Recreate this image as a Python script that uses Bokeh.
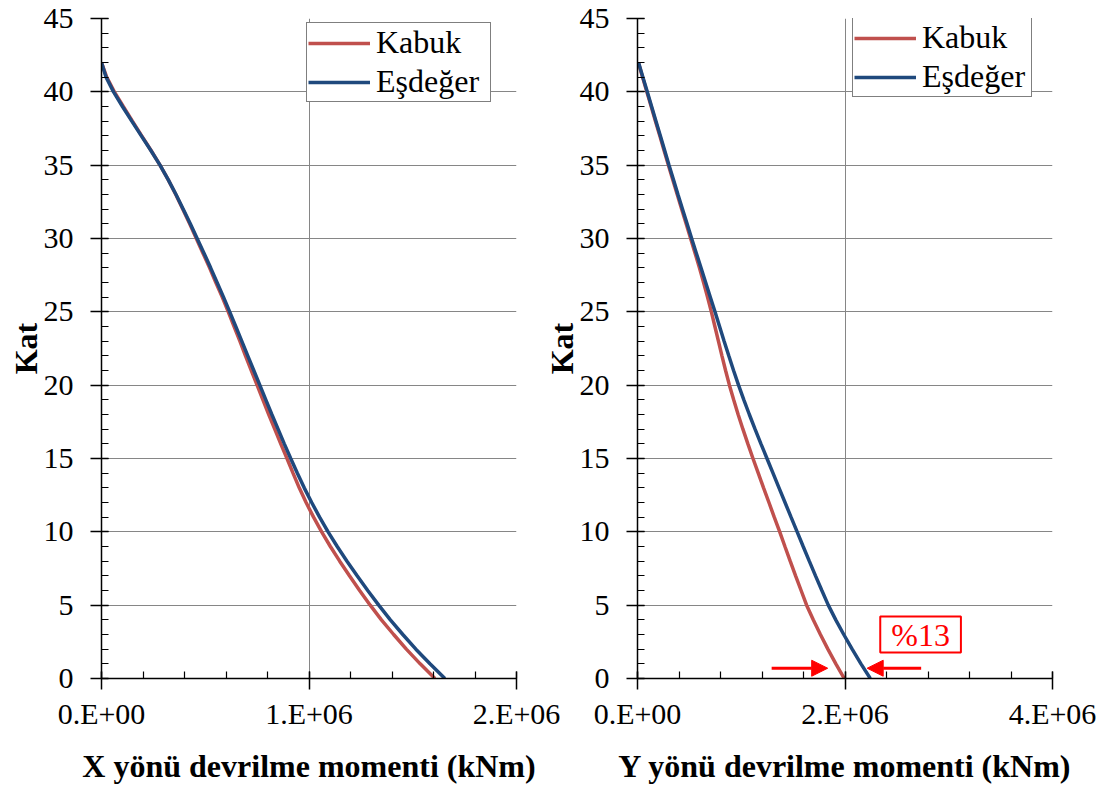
from bokeh.plotting import figure
from bokeh.models import (Range1d, FixedTicker, CustomJSTickFormatter, Legend,
                          LegendItem, Label, Arrow, NormalHead)
from bokeh.layouts import row
from bokeh.embed import file_html
from bokeh.resources import INLINE

# Storey numbers (ground = 0, roof = 42)
floors = list(range(0, 43))

# Overturning moments, in millions of kNm, storey by storey (index = storey)
x_kabuk = [1.607, 1.536, 1.469, 1.408, 1.349, 1.295, 1.244, 1.195, 1.148, 1.103,
           1.061, 1.022, 0.986, 0.953, 0.923, 0.894, 0.864, 0.835, 0.806, 0.778,
           0.750, 0.722, 0.694, 0.667, 0.639, 0.611, 0.582, 0.551, 0.521, 0.489,
           0.457, 0.425, 0.392, 0.358, 0.322, 0.282, 0.239, 0.194, 0.149, 0.105,
           0.062, 0.025, 0.000]
x_esdeger = [1.655, 1.583, 1.515, 1.452, 1.392, 1.336, 1.283, 1.232, 1.183, 1.136,
             1.092, 1.051, 1.013, 0.977, 0.944, 0.912, 0.881, 0.851, 0.821, 0.792,
             0.763, 0.734, 0.705, 0.676, 0.647, 0.618, 0.588, 0.557, 0.526, 0.494,
             0.461, 0.428, 0.394, 0.359, 0.322, 0.282, 0.238, 0.192, 0.146, 0.101,
             0.058, 0.022, 0.000]
y_kabuk = [1.993, 1.912, 1.835, 1.763, 1.694, 1.630, 1.577, 1.524, 1.472, 1.421,
           1.371, 1.318, 1.267, 1.215, 1.164, 1.113, 1.064, 1.016, 0.970, 0.927,
           0.886, 0.849, 0.814, 0.780, 0.746, 0.712, 0.675, 0.637, 0.597, 0.555,
           0.512, 0.469, 0.426, 0.383, 0.340, 0.298, 0.256, 0.215, 0.173, 0.132,
           0.090, 0.049, 0.008]
y_esdeger = [2.244, 2.154, 2.069, 1.988, 1.911, 1.839, 1.777, 1.716, 1.656, 1.597,
             1.539, 1.480, 1.422, 1.364, 1.306, 1.248, 1.190, 1.133, 1.078, 1.025,
             0.974, 0.926, 0.880, 0.835, 0.791, 0.747, 0.702, 0.657, 0.612, 0.567,
             0.522, 0.478, 0.434, 0.390, 0.347, 0.304, 0.262, 0.220, 0.178, 0.136,
             0.094, 0.052, 0.010]

series_names = ["Kabuk", "Eşdeğer"]
x_title = "X yönü devrilme momenti (kNm)"
y_title = "Y yönü devrilme momenti (kNm)"
floor_title = "Kat"
diff_text = "%13"

MILLION = 1e6
RED = "#C0504D"
BLUE = "#1F497D"
FONT = "Liberation Serif"
GRID = "#868686"

sci_formatter = CustomJSTickFormatter(code="""
    if (tick == 0) { return "0.E+00"; }
    const e = Math.floor(Math.log10(Math.abs(tick)) + 1e-9);
    const m = Math.round(tick / Math.pow(10, e));
    return m + ".E+" + String(e).padStart(2, "0");
""")


def make_panel(width, border_left, border_right, x_max, x_step, x_minor_step,
               kabuk, esdeger, xlabel, legend_xy, legend_label_width):
    p = figure(width=width, height=792,
               x_range=Range1d(0, x_max), y_range=Range1d(0, 45),
               output_backend="svg", toolbar_location=None,
               min_border_left=border_left, min_border_right=border_right,
               min_border_top=18, min_border_bottom=114)
    p.outline_line_color = None
    p.background_fill_color = "white"

    xs_k = [v * MILLION for v in kabuk]
    xs_e = [v * MILLION for v in esdeger]
    r_k = p.line(xs_k, floors, line_color=RED, line_width=3.5)
    r_e = p.line(xs_e, floors, line_color=BLUE, line_width=3.5)

    nx = int(round(x_max / x_step))
    nmx = int(round(x_max / x_minor_step))
    p.xaxis.ticker = FixedTicker(ticks=[i * x_step for i in range(nx + 1)],
                                 minor_ticks=[i * x_minor_step for i in range(nmx + 1)])
    p.yaxis.ticker = FixedTicker(ticks=list(range(0, 46, 5)),
                                 minor_ticks=list(range(0, 46)))
    p.xaxis.formatter = sci_formatter

    for ax in (p.xaxis[0], p.yaxis[0]):
        ax.axis_line_color = "black"
        ax.axis_line_width = 1.5
        ax.major_tick_line_color = "black"
        ax.major_tick_line_width = 1.5
        ax.minor_tick_line_color = "black"
        ax.minor_tick_line_width = 1.2
        ax.major_tick_out = 11
        ax.major_tick_in = 7
        ax.minor_tick_out = 0
        ax.minor_tick_in = 7
        ax.major_label_text_font = FONT
        ax.major_label_text_font_size = "30px"
        ax.major_label_text_color = "black"
        ax.axis_label_text_font = FONT
        ax.axis_label_text_font_size = "32px"
        ax.axis_label_text_font_style = "bold"
        ax.axis_label_text_color = "black"

    p.xaxis.major_label_standoff = 7
    p.xaxis.axis_label = xlabel
    p.xaxis.axis_label_standoff = 15
    p.yaxis.major_label_standoff = 17
    p.yaxis.axis_label = floor_title
    p.yaxis.axis_label_standoff = -3

    p.xgrid.grid_line_color = GRID
    p.ygrid.grid_line_color = GRID
    p.xgrid.grid_line_width = 1
    p.ygrid.grid_line_width = 1

    legend = Legend(items=[LegendItem(label=series_names[0], renderers=[r_k]),
                           LegendItem(label=series_names[1], renderers=[r_e])],
                    location=legend_xy)
    legend.label_text_font = FONT
    legend.label_text_font_size = "32px"
    legend.label_text_color = "black"
    legend.glyph_width = 62
    legend.glyph_height = 30
    legend.label_height = 30
    legend.label_width = legend_label_width
    legend.label_standoff = 6
    legend.padding = 1
    legend.spacing = 2
    legend.margin = 0
    legend.border_line_color = "black"
    legend.border_line_width = 1.5
    legend.background_fill_color = "white"
    legend.background_fill_alpha = 1.0
    p.add_layout(legend)
    return p


left = make_panel(579, 101, 63, 2 * MILLION, 1 * MILLION, 0.2 * MILLION,
                  x_kabuk, x_esdeger, x_title, (205, 576), 113)
left.border_fill_color = "white"

# The right panel slides under the left panel's margin, so its own border is
# transparent and the left panel's last tick label stays visible.
right = make_panel(570, 97, 58, 4 * MILLION, 2 * MILLION, 0.4 * MILLION,
                   y_kabuk, y_esdeger, y_title, (215, 581), 108)
right.border_fill_alpha = 0.0
right.margin = (0, 0, 0, -39)

# Base-moment difference between the two models, Y direction
base_k = y_kabuk[0] * MILLION
base_e = y_esdeger[0] * MILLION
arrow_y = 0.7
right.add_layout(Arrow(end=NormalHead(size=16, fill_color="red", line_color="red"),
                       x_start=base_k - 0.70 * MILLION, y_start=arrow_y,
                       x_end=base_k - 0.16 * MILLION, y_end=arrow_y,
                       line_color="red", line_width=3))
right.add_layout(Arrow(end=NormalHead(size=16, fill_color="red", line_color="red"),
                       x_start=base_e + 0.49 * MILLION, y_start=arrow_y,
                       x_end=base_e - 0.03 * MILLION, y_end=arrow_y,
                       line_color="red", line_width=3))
right.add_layout(Label(x=(base_k + base_e) / 2 + 0.61 * MILLION, y=3.0,
                       text=diff_text, text_align="center", text_baseline="middle",
                       text_font=FONT, text_font_size="32px", text_color="red",
                       border_line_color="red", border_line_width=2,
                       background_fill_color="white", padding=(11, 0)))

layout = row(left, right)
open("out.html", "w").write(file_html(layout, INLINE))
